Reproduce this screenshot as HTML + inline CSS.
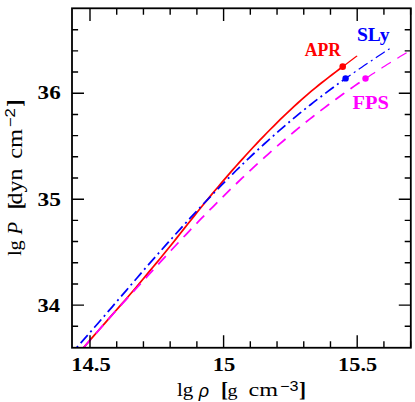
<!DOCTYPE html>
<html><head><meta charset="utf-8"><title>EOS</title>
<style>
html,body{margin:0;padding:0;background:#fff;}
svg{display:block;}
</style></head><body>
<svg width="415" height="402" viewBox="0 0 415 402">
<rect width="415" height="402" fill="#fff"/>
<defs><clipPath id="c"><rect x="72.0" y="8.3" width="338.8" height="339.45"/></clipPath></defs>
<g clip-path="url(#c)" fill="none" stroke-linecap="butt">
<path d="M70.00,363.00 L73.45,359.10 L76.90,355.18 L80.36,351.25 L83.81,347.30 L87.26,343.35 L90.71,339.38 L94.16,335.42 L97.62,331.45 L101.07,327.50 L104.52,323.55 L107.97,319.61 L111.42,315.69 L114.87,311.77 L118.33,307.87 L121.78,303.95 L125.23,300.00 L128.68,296.03 L132.13,292.01 L135.59,287.95 L139.04,283.85 L142.49,279.72 L145.94,275.58 L149.39,271.43 L152.85,267.28 L156.30,263.12 L159.75,258.95 L163.20,254.75 L166.65,250.53 L170.11,246.27 L173.56,241.96 L177.01,237.63 L180.46,233.26 L183.91,228.89 L187.36,224.53 L190.82,220.17 L194.27,215.84 L197.72,211.54 L201.17,207.27 L204.62,203.03 L208.08,198.83 L211.53,194.66 L214.98,190.53 L218.43,186.44 L221.88,182.39 L225.34,178.37 L228.79,174.39 L232.24,170.44 L235.69,166.53 L239.14,162.66 L242.59,158.81 L246.05,155.01 L249.50,151.24 L252.95,147.51 L256.40,143.82 L259.85,140.18 L263.31,136.57 L266.76,133.00 L270.21,129.49 L273.66,126.02 L277.11,122.59 L280.57,119.21 L284.02,115.88 L287.47,112.59 L290.92,109.34 L294.37,106.13 L297.83,102.98 L301.28,99.87 L304.73,96.83 L308.18,93.85 L311.63,90.93 L315.08,88.08 L318.54,85.28 L321.99,82.54 L325.44,79.83 L328.89,77.15 L332.34,74.50 L335.80,71.87 L339.25,69.25 L342.70,66.65" stroke="#ff0000" stroke-width="1.75"/>
<path d="M342.70,66.65 L344.02,65.66 L345.34,64.68 L346.65,63.69 L347.97,62.71 L349.29,61.73 L350.61,60.75 L351.93,59.77 L353.25,58.79 L354.56,57.82 L355.88,56.85 L357.20,55.88" stroke="#ff0000" stroke-width="1.2"/>
<path d="M66.00,359.54 L69.54,355.61 L73.08,351.66 L76.62,347.69 L80.16,343.70 L83.70,339.69 L87.24,335.66 L90.77,331.61 L94.31,327.55 L97.85,323.47 L101.39,319.39 L104.93,315.29 L108.47,311.18 L112.01,307.06 L115.55,302.94 L119.09,298.81 L122.63,294.69 L126.17,290.56 L129.71,286.44 L133.25,282.33 L136.78,278.22 L140.32,274.12 L143.86,270.04 L147.40,265.97 L150.94,261.92 L154.48,257.89 L158.02,253.88 L161.56,249.88 L165.10,245.89 L168.64,241.92 L172.18,237.97 L175.72,234.02 L179.26,230.10 L182.79,226.19 L186.33,222.30 L189.87,218.44 L193.41,214.60 L196.95,210.79 L200.49,207.01 L204.03,203.26 L207.57,199.54 L211.11,195.85 L214.65,192.18 L218.19,188.55 L221.73,184.94 L225.27,181.35 L228.81,177.80 L232.34,174.26 L235.88,170.75 L239.42,167.28 L242.96,163.83 L246.50,160.43 L250.04,157.06 L253.58,153.74 L257.12,150.46 L260.66,147.22 L264.20,144.01 L267.74,140.82 L271.28,137.66 L274.82,134.53 L278.35,131.42 L281.89,128.34 L285.43,125.28 L288.97,122.27 L292.51,119.29 L296.05,116.35 L299.59,113.44 L303.13,110.57 L306.67,107.74 L310.21,104.94 L313.75,102.17 L317.29,99.42 L320.83,96.71 L324.36,94.03 L327.90,91.36 L331.44,88.73 L334.98,86.11 L338.52,83.52 L342.06,80.96 L345.60,78.42" stroke="#0000ff" stroke-width="1.75" stroke-dasharray="10.7 3.95 2 3.96" stroke-dashoffset="-1.39"/>
<path d="M345.60,78.42 L347.92,76.77 L350.23,75.14 L352.55,73.51 L354.86,71.90 L357.18,70.30 L359.49,68.71 L361.81,67.13 L364.13,65.55 L366.44,63.99 L368.76,62.43 L371.07,60.88 L373.39,59.34 L375.71,57.80 L378.02,56.27 L380.34,54.74 L382.65,53.22 L384.97,51.70 L387.28,50.18 L389.60,48.66" stroke="#0000ff" stroke-width="1.2" stroke-dasharray="10.7 3.95 2 3.96" stroke-dashoffset="396.20"/>
<path d="M70.00,363.00 L73.74,358.78 L77.48,354.54 L81.22,350.27 L84.96,345.98 L88.70,341.69 L92.44,337.39 L96.18,333.10 L99.92,328.82 L103.66,324.56 L107.41,320.32 L111.15,316.12 L114.89,311.94 L118.63,307.80 L122.37,303.68 L126.11,299.57 L129.85,295.47 L133.59,291.37 L137.33,287.27 L141.07,283.18 L144.81,279.08 L148.55,274.99 L152.29,270.89 L156.03,266.80 L159.77,262.71 L163.51,258.64 L167.25,254.57 L170.99,250.53 L174.73,246.50 L178.47,242.50 L182.22,238.51 L185.96,234.55 L189.70,230.62 L193.44,226.71 L197.18,222.83 L200.92,218.97 L204.66,215.13 L208.40,211.32 L212.14,207.54 L215.88,203.77 L219.62,200.04 L223.36,196.32 L227.10,192.64 L230.84,188.98 L234.58,185.35 L238.32,181.75 L242.06,178.18 L245.80,174.63 L249.54,171.13 L253.28,167.65 L257.03,164.20 L260.77,160.79 L264.51,157.41 L268.25,154.06 L271.99,150.74 L275.73,147.45 L279.47,144.19 L283.21,140.97 L286.95,137.78 L290.69,134.62 L294.43,131.50 L298.17,128.41 L301.91,125.37 L305.65,122.35 L309.39,119.38 L313.13,116.44 L316.87,113.54 L320.61,110.67 L324.35,107.84 L328.09,105.02 L331.84,102.23 L335.58,99.47 L339.32,96.73 L343.06,94.03 L346.80,91.36 L350.54,88.72 L354.28,86.13 L358.02,83.58 L361.76,81.06 L365.50,78.57" stroke="#ff00ff" stroke-width="1.75" stroke-dasharray="11.1 7.53" stroke-dashoffset="-1.99"/>
<path d="M365.50,78.57 L367.66,77.14 L369.83,75.71 L371.99,74.30 L374.15,72.89 L376.32,71.49 L378.48,70.10 L380.64,68.71 L382.81,67.33 L384.97,65.96 L387.13,64.60 L389.29,63.24 L391.46,61.89 L393.62,60.55 L395.78,59.22 L397.95,57.90 L400.11,56.59 L402.27,55.28 L404.44,53.99 L406.60,52.70" stroke="#ff00ff" stroke-width="1.2" stroke-dasharray="11.1 7.53" stroke-dashoffset="409.43"/>
</g>
<circle cx="342.7" cy="66.65" r="3.3" fill="#ff0000"/>
<circle cx="345.6" cy="78.42" r="3.2" fill="#0000ff"/>
<circle cx="365.5" cy="78.57" r="3.2" fill="#ff00ff"/>
<g stroke="#000" stroke-width="1.4" fill="none">
<rect x="72.0" y="8.3" width="338.8" height="339.45" stroke-width="1.8"/>
<path d="M90.00,347.75v-12.6M90.00,8.3v12.6M116.72,347.75v-6.4M116.72,8.3v6.4M143.44,347.75v-6.4M143.44,8.3v6.4M170.16,347.75v-6.4M170.16,8.3v6.4M196.88,347.75v-6.4M196.88,8.3v6.4M223.60,347.75v-12.6M223.60,8.3v12.6M250.32,347.75v-6.4M250.32,8.3v6.4M277.04,347.75v-6.4M277.04,8.3v6.4M303.76,347.75v-6.4M303.76,8.3v6.4M330.48,347.75v-6.4M330.48,8.3v6.4M357.20,347.75v-12.6M357.20,8.3v12.6M383.92,347.75v-6.4M383.92,8.3v6.4M410.64,347.75v-6.4M410.64,8.3v6.4M72.0,326.31h6.1M410.8,326.31h-6.1M72.0,305.12h12.0M410.8,305.12h-12.0M72.0,283.93h6.1M410.8,283.93h-6.1M72.0,262.74h6.1M410.8,262.74h-6.1M72.0,241.56h6.1M410.8,241.56h-6.1M72.0,220.37h6.1M410.8,220.37h-6.1M72.0,199.18h12.0M410.8,199.18h-12.0M72.0,177.99h6.1M410.8,177.99h-6.1M72.0,156.80h6.1M410.8,156.80h-6.1M72.0,135.62h6.1M410.8,135.62h-6.1M72.0,114.43h6.1M410.8,114.43h-6.1M72.0,93.24h12.0M410.8,93.24h-12.0M72.0,72.05h6.1M410.8,72.05h-6.1M72.0,50.86h6.1M410.8,50.86h-6.1M72.0,29.68h6.1M410.8,29.68h-6.1"/>
</g>
<g font-family="'Liberation Serif', serif" fill="#000">
<text x="71.2" y="371.1" font-size="19" font-weight="bold" textLength="39.5" lengthAdjust="spacingAndGlyphs">14.5</text>
<text x="212.8" y="371.2" font-size="19" font-weight="bold" textLength="22.6" lengthAdjust="spacingAndGlyphs">15</text>
<text x="338.1" y="371.1" font-size="19" font-weight="bold" textLength="39" lengthAdjust="spacingAndGlyphs">15.5</text>
<text x="37.6" y="99.4" font-size="19" font-weight="bold" textLength="23.1" lengthAdjust="spacingAndGlyphs">36</text>
<text x="37.6" y="205.6" font-size="19" font-weight="bold" textLength="23.4" lengthAdjust="spacingAndGlyphs">35</text>
<text x="37.6" y="311.8" font-size="19" font-weight="bold" textLength="22.5" lengthAdjust="spacingAndGlyphs">34</text>
<text x="304.7" y="56.3" font-size="19" font-weight="bold" fill="#ff0000" textLength="36.2" lengthAdjust="spacingAndGlyphs">APR</text>
<text x="356.9" y="41" font-size="19" font-weight="bold" fill="#0000ff" textLength="32.7" lengthAdjust="spacingAndGlyphs">SLy</text>
<text x="352.4" y="109.3" font-size="19" font-weight="bold" fill="#ff00ff" textLength="36.4" lengthAdjust="spacingAndGlyphs">FPS</text>
<text x="176.9" y="395.7" font-size="18.5" textLength="16.4" lengthAdjust="spacingAndGlyphs">lg</text>
<text x="198.8" y="396.5" font-size="18" font-style="italic" font-family="'Liberation Sans', sans-serif">ρ</text>
<text x="221" y="397" font-size="21" font-weight="bold">[</text>
<text x="227.5" y="396" font-size="17.5" textLength="10" lengthAdjust="spacingAndGlyphs">g</text>
<text x="248.6" y="396.3" font-size="19.5" textLength="29.5" lengthAdjust="spacingAndGlyphs">cm</text>
<text x="280.1" y="391.2" font-size="14" font-family="'Liberation Sans', sans-serif" textLength="18.4" lengthAdjust="spacingAndGlyphs">−3</text>
<text x="299" y="396.8" font-size="21" font-weight="bold">]</text>
</g>
<g transform="translate(22,0) rotate(-90)" font-family="'Liberation Serif', serif" fill="#000">
<text x="-256.1" y="-0.6" font-size="19" textLength="15.8" lengthAdjust="spacingAndGlyphs">lg</text>
<text x="-234.5" y="-0.4" font-size="20.5" font-style="italic">P</text>
<text x="-209.5" y="0.5" font-size="22" font-weight="bold">[</text>
<text x="-204.4" y="0.15" font-size="20" textLength="35.9" lengthAdjust="spacingAndGlyphs">dyn</text>
<text x="-158.8" y="0.2" font-size="21" textLength="30" lengthAdjust="spacingAndGlyphs">cm</text>
<text x="-127.2" y="-6.9" font-size="14" font-family="'Liberation Sans', sans-serif" textLength="19" lengthAdjust="spacingAndGlyphs">−2</text>
<text x="-106.8" y="-0.3" font-size="22" font-weight="bold">]</text>
</g>
</svg></body></html>
